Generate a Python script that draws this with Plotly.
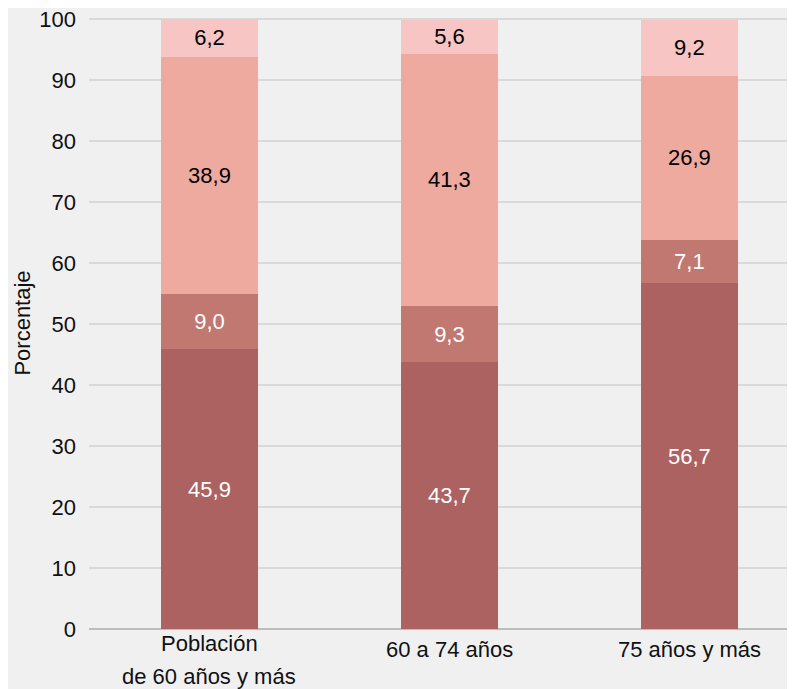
import plotly.graph_objects as go

categories = ["Población<br>de 60 años y más", "60 a 74 años", "75 años y más"]
seg1 = [45.9, 43.7, 56.7]
seg2 = [9.0, 9.3, 7.1]
seg3 = [38.9, 41.3, 26.9]
seg4 = [6.2, 5.6, 9.2]
y_ticks = [0, 10, 20, 30, 40, 50, 60, 70, 80, 90, 100]

series = [
    (seg1, "#AD6262", "white"),
    (seg2, "#C07870", "white"),
    (seg3, "#EFAAA0", "black"),
    (seg4, "#F7C5C3", "black"),
]

FONT = "Liberation Sans, Arial, Helvetica, sans-serif"
FS = 22
xpos = list(range(len(categories)))

fig = go.Figure()
for vals, color, tcolor in series:
    fig.add_trace(go.Bar(
        x=xpos, y=vals, marker=dict(color=color, line=dict(width=0)),
        width=0.404,
        texttemplate="%{y:.1f}", textposition="inside", insidetextanchor="middle",
        textfont=dict(color=tcolor, size=FS, family=FONT),
        textangle=0, showlegend=False, hoverinfo="skip",
    ))

annotations = []
for i, cat in enumerate(categories):
    lines = cat.split("<br>")
    if len(lines) == 1:
        annotations.append(dict(x=i, y=-0.0328, xref="x", yref="paper", text=lines[0],
                                showarrow=False, yanchor="middle", xanchor="center",
                                font=dict(size=FS, color="#111", family=FONT)))
    else:
        for j, ln in enumerate(lines):
            annotations.append(dict(x=i, y=-0.023 - j * 0.054, xref="x", yref="paper", text=ln,
                                    showarrow=False, yanchor="middle", xanchor="center",
                                    font=dict(size=FS, color="#111", family=FONT)))

fig.update_layout(
    width=787, height=681,
    margin=dict(l=81, r=0, t=9, b=60),
    barmode="stack",
    separators=",.",
    paper_bgcolor="#F0F0F0", plot_bgcolor="#F0F0F0",
    font=dict(family=FONT, size=FS, color="#111"),
    annotations=annotations,
    xaxis=dict(range=[-0.502, 2.44], showticklabels=False, showgrid=False,
               zeroline=False, showline=False, ticks=""),
    yaxis=dict(range=[0, 100.33], tickvals=y_ticks, showgrid=True, gridcolor="#D9D9D9",
               gridwidth=2, zeroline=True, zerolinecolor="#BDBDBD", zerolinewidth=2,
               showline=False, ticks="", ticklabelstandoff=12, ticklabeloverflow="allow",
               tickfont=dict(size=FS, color="#111", family=FONT),
               title=dict(text="Porcentaje", font=dict(size=22, color="#111", family=FONT),
                          standoff=2)),
)

fig.write_html("out.html")
